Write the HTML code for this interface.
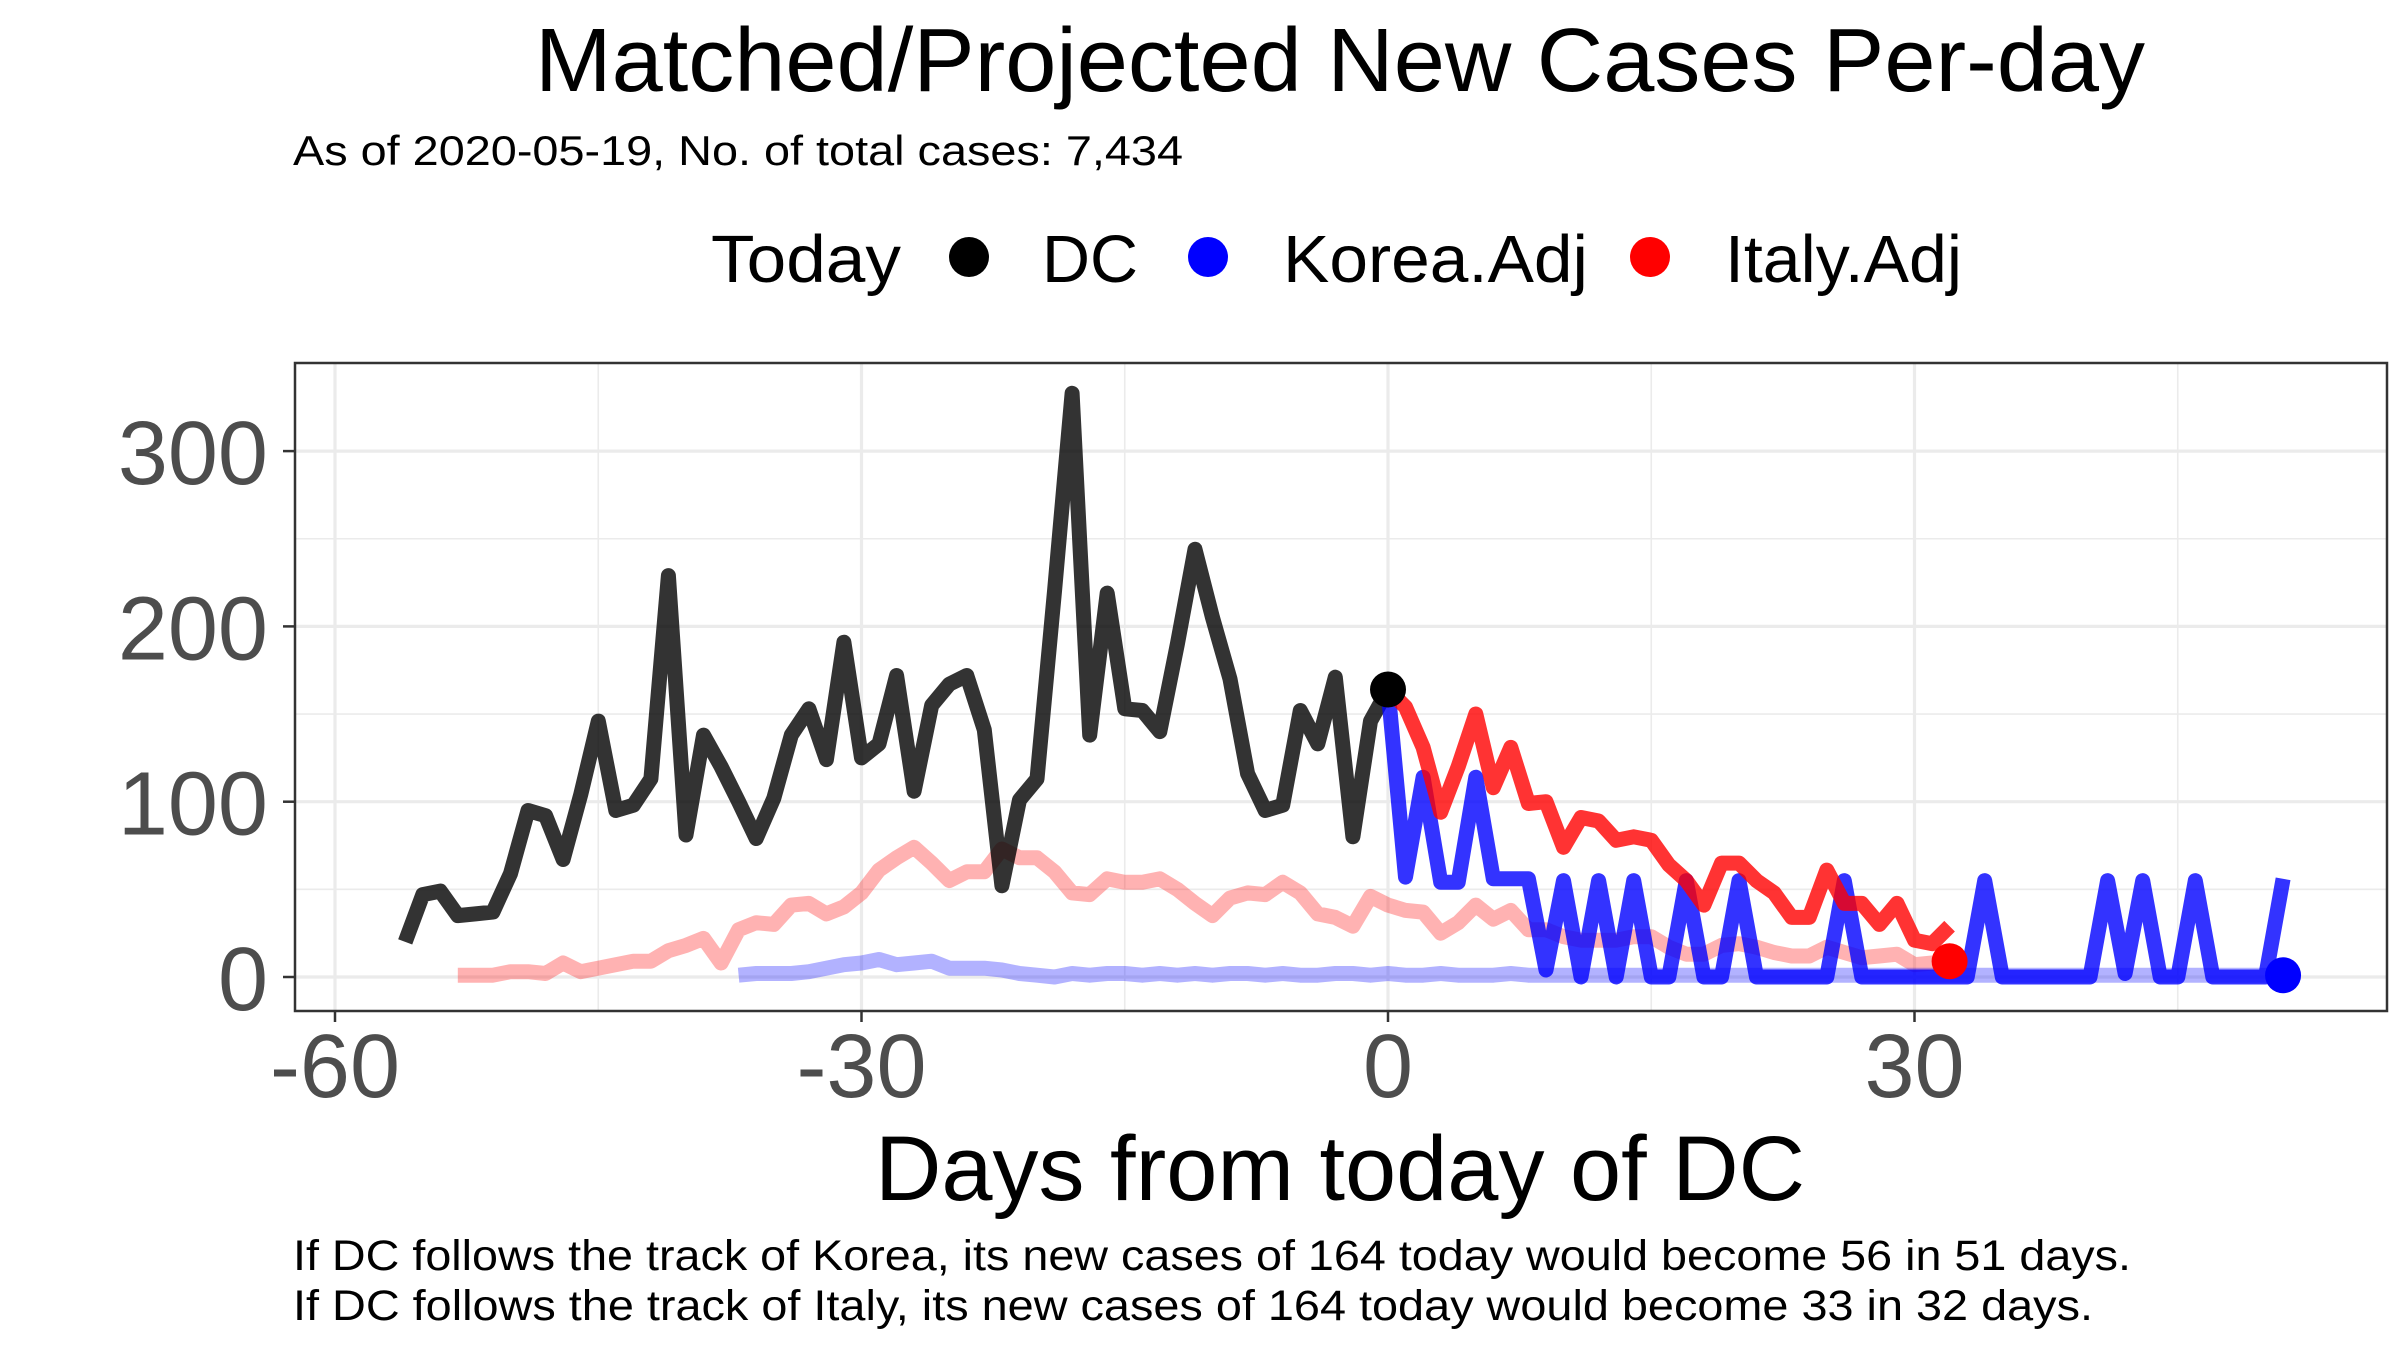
<!DOCTYPE html>
<html><head><meta charset="utf-8"><style>
html,body{margin:0;padding:0;background:#fff;}
svg{display:block;font-family:"Liberation Sans",Arial,sans-serif;}
</style></head><body>
<svg id="chart" width="2400" height="1350" viewBox="0 0 2400 1350" xmlns="http://www.w3.org/2000/svg">
<rect x="0" y="0" width="2400" height="1350" fill="#fff"/>
<text x="1340" y="91" text-anchor="middle" font-size="90" textLength="1610" lengthAdjust="spacingAndGlyphs" fill="#000">Matched/Projected New Cases Per-day</text>
<text x="293" y="165" font-size="42" textLength="890" lengthAdjust="spacingAndGlyphs" fill="#000">As of 2020-05-19, No. of total cases: 7,434</text>
<g>
<text x="711" y="282" font-size="67" textLength="190" lengthAdjust="spacingAndGlyphs">Today</text>
<circle cx="969" cy="257" r="20" fill="#000"/>
<text x="1042" y="282" font-size="67" textLength="96" lengthAdjust="spacingAndGlyphs">DC</text>
<circle cx="1208" cy="257" r="20" fill="#00f"/>
<text x="1283" y="282" font-size="67" textLength="305" lengthAdjust="spacingAndGlyphs">Korea.Adj</text>
<circle cx="1650" cy="257" r="20" fill="#f00"/>
<text x="1725" y="282" font-size="67" textLength="237" lengthAdjust="spacingAndGlyphs">Italy.Adj</text>
</g>
<g id="grid"></g>
<g id="series"></g>
<rect x="295" y="363" width="2092" height="648" fill="none" stroke="#333" stroke-width="2.5"/>
<g id="axes"></g>
<text x="1340" y="1200" text-anchor="middle" font-size="92" textLength="930" lengthAdjust="spacingAndGlyphs">Days from today of DC</text>
<text x="293" y="1270" font-size="43" textLength="1838" lengthAdjust="spacingAndGlyphs">If DC follows the track of Korea, its new cases of 164 today would become 56 in 51 days.</text>
<text x="293" y="1320" font-size="43" textLength="1800" lengthAdjust="spacingAndGlyphs">If DC follows the track of Italy, its new cases of 164 today would become 33 in 32 days.</text>
</svg>
<script>
const dcStart = -56;
const dcValues = [20,47,49,35,36,37,59,95,92,67,104,146,95,98,113,229,81,138,120,100,79,102,138,153,124,191,125,133,172,106,155,167,172,141,52,101,113,220,333,138,219,153,152,140,190,244,205,170,116,95,98,152,133,171,80,146,164];
const koreaFadedStart = -37;
const koreaFadedValues = [1,2,2,2,3,5,7,8,10,7,8,9,5,5,5,4,2,1,0,2,1,2,2,1,2,1,2,1,2,2,1,2,1,1,2,2,1,2,1,1,2,1,1,1,2,1,1,1,1,1,1,1,1,1,1,1,1,1,1,1,1,1,1,1,1,1,1,1,1,1,1,1,1,1,1,1,1,1,1,1,1,1,1,1,1,1,1,1,1];
const italyFadedStart = -53;
const italyFadedValues = [1,1,1,3,3,2,8,3,5,7,9,9,15,18,22,8,27,31,30,41,42,36,40,48,61,68,74,65,55,60,60,73,68,68,60,48,47,56,54,54,56,50,42,35,45,48,47,54,48,36,34,29,46,41,38,37,25,31,41,33,38,27,27,23,21,21,21,23,23,17,13,13,18,19,17,14,12,12,17,14,11,12,13,7,8,7];
const koreaAdjValues = [164,57,114,54,54,114,56,56,56,4,55,0,55,0,55,0,0,55,0,0,55,0,0,0,0,0,55,0,0,0,0,0,0,0,55,0,0,0,0,0,0,55,2,55,0,0,55,0,0,0,0,56];
const italyAdjValues = [164,154,131,94,120,150,108,131,99,100,74,91,89,78,80,78,64,55,41,65,65,55,48,34,34,61,42,42,30,42,21,19,29];
const todayPoint = [0,164];
const italyEnd = [32,9];
const koreaEnd = [51,1];
const xTicks = [-60,-30,0,30];
const xMinor = [-45,-15,15,45];
const yTicks = [0,100,200,300];
const yMinor = [50,150,250];

const NS = "http://www.w3.org/2000/svg";
const X = d => 1388 + 17.55 * d;
const Y = v => 977 - 1.753 * v;
const PL = 295, PR = 2387, PT = 363, PB = 1011;
function mk(tag, attrs, parent){
  const e = document.createElementNS(NS, tag);
  for (const k in attrs) e.setAttribute(k, attrs[k]);
  parent.appendChild(e);
  return e;
}
const grid = document.getElementById('grid');
const series = document.getElementById('series');
const axes = document.getElementById('axes');
yMinor.forEach(v => {
  const l = mk('line', {x1:PL, x2:PR, y1:Y(v), y2:Y(v), stroke:'#ebebeb', 'stroke-width':1.6}, grid);
  
  
});
xMinor.forEach(d => {
  const l = mk('line', {x1:X(d), x2:X(d), y1:PT, y2:PB, stroke:'#ebebeb', 'stroke-width':1.6}, grid);
  
  
});
yTicks.forEach(v => {
  const l = mk('line', {x1:PL, x2:PR, y1:Y(v), y2:Y(v), stroke:'#ebebeb', 'stroke-width':3.2}, grid);
  
  
  const t = mk('line', {x1:283, x2:PL, y1:Y(v), y2:Y(v), stroke:'#333', 'stroke-width':2.5}, axes);
  
  
  const tx = mk('text', {x:268, y:Y(v)+33, 'text-anchor':'end', 'font-size':90, fill:'#4d4d4d'}, axes);
  tx.textContent = String(v);
  
  
});
xTicks.forEach(d => {
  const l = mk('line', {x1:X(d), x2:X(d), y1:PT, y2:PB, stroke:'#ebebeb', 'stroke-width':3.2}, grid);
  
  
  const t = mk('line', {x1:X(d), x2:X(d), y1:PB, y2:PB+11, stroke:'#333', 'stroke-width':2.5}, axes);
  
  
  const tx = mk('text', {x:X(d), y:1097, 'text-anchor':'middle', 'font-size':90, fill:'#4d4d4d'}, axes);
  tx.textContent = String(d);
  
  
});
function drawLine(start, vals, color, name){
  const pts = vals.map((v,i) => X(start+i).toFixed(1) + ',' + Y(v).toFixed(1)).join(' ');
  const p = mk('polyline', {points:pts, fill:'none', stroke:color, 'stroke-width':15, 'stroke-linejoin':'round', 'stroke-linecap':'butt'}, series);
  
  
}
drawLine(italyFadedStart, italyFadedValues, 'rgba(255,0,0,0.3)', 'italy-matched-line');
drawLine(koreaFadedStart, koreaFadedValues, 'rgba(0,0,255,0.3)', 'korea-matched-line');
drawLine(dcStart, dcValues, 'rgba(0,0,0,0.8)', 'dc-line');
drawLine(0, koreaAdjValues, 'rgba(0,0,255,0.8)', 'korea-adj-line');
drawLine(0, italyAdjValues, 'rgba(255,0,0,0.8)', 'italy-adj-line');
const c1 = mk('circle', {cx:X(todayPoint[0]), cy:Y(todayPoint[1]), r:18, fill:'#000'}, series);


const c2 = mk('circle', {cx:X(italyEnd[0]), cy:Y(italyEnd[1]), r:18, fill:'#f00'}, series);


const c3 = mk('circle', {cx:X(koreaEnd[0]), cy:Y(koreaEnd[1]), r:18, fill:'#00f'}, series);


</script>
</body></html>
